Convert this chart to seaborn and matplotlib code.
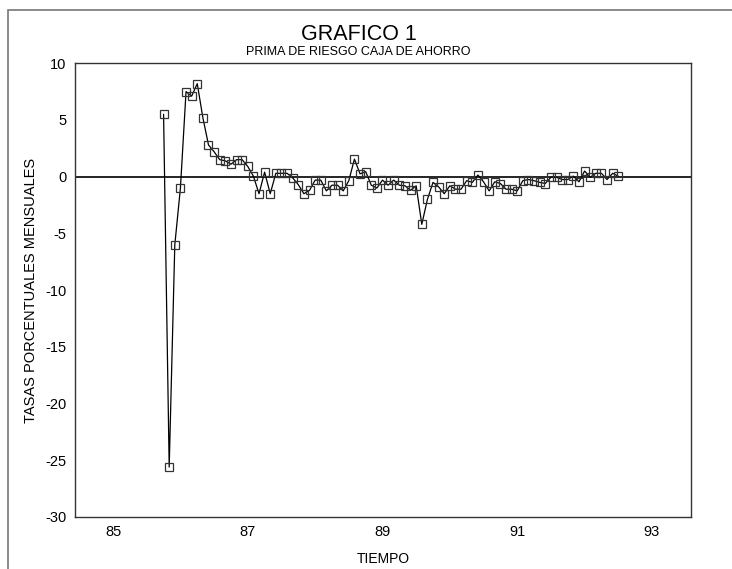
"""
GRAFICO 1 - prima de riesgo caja de ahorro (tasas porcentuales mensuales).
"""

import numpy as np
import pandas as pd
import matplotlib.pyplot as plt
from matplotlib.patches import Rectangle
import seaborn as sns


# --- Data: monthly observations starting late 1985 ---
START_YEAR = 85.75
PRIMA = [
    5.5, -25.6, -6.0, -1.0, 7.5, 7.1, 8.2, 5.2, 2.8, 2.2,
    1.5, 1.4, 1.1, 1.5, 1.5, 0.9, 0.05, -1.5, 0.4, -1.5,
    0.3, 0.3, 0.3, -0.1, -0.7, -1.5, -1.2, -0.3, -0.3, -1.25,
    -0.75, -0.75, -1.25, -0.35, 1.55, 0.25, 0.45, -0.75, -1.0, -0.3,
    -0.75, -0.3, -0.75, -0.8, -1.2, -0.8, -4.2, -2.0, -0.5, -0.9,
    -1.5, -0.8, -1.1, -1.1, -0.35, -0.5, 0.15, -0.45, -1.25, -0.45,
    -0.6, -1.1, -1.1, -1.25, -0.35, -0.25, -0.35, -0.5, -0.6, -0.05,
    -0.05, -0.25, -0.25, 0.05, -0.45, 0.5, -0.05, 0.3, 0.3, -0.25,
    0.3, 0.05,
]
TIEMPO = [START_YEAR + i / 12 for i in range(len(PRIMA))]

X_TICKS = list(range(85, 94))
X_TICK_LABELS = [str(y) if y % 2 == 1 else "" for y in X_TICKS]
Y_TICKS = list(range(-30, 11, 5))

TITLE = "GRAFICO 1"
SUBTITLE = "PRIMA DE RIESGO CAJA DE AHORRO"
XLABEL = "TIEMPO"
YLABEL = "TASAS PORCENTUALES MENSUALES"


def main() -> None:
    sns.set_style("white")
    plt.rcParams["font.family"] = ["Liberation Sans", "DejaVu Sans"]
    plt.rcParams["axes.unicode_minus"] = False
    plt.rcParams["text.color"] = "black"
    plt.rcParams["axes.labelcolor"] = "black"
    plt.rcParams["xtick.color"] = "black"
    plt.rcParams["ytick.color"] = "black"

    df = pd.DataFrame({"tiempo": TIEMPO, "prima": PRIMA})

    fig = plt.figure(figsize=(7.32, 5.69), dpi=100)
    ax = fig.add_axes([0.102, 0.0914, 0.842, 0.7974])

    ax.axhline(0, color="black", lw=1.2, zorder=1)
    sns.lineplot(
        data=df, x="tiempo", y="prima", ax=ax,
        color="black", lw=0.9, marker="s", markersize=5.5,
        markerfacecolor="none", markeredgecolor="#333333", markeredgewidth=0.9,
        zorder=2,
    )

    ax.set_xlim(84.43, 93.58)
    ax.set_ylim(-30, 10)
    ax.set_xticks(X_TICKS)
    ax.set_xticklabels(X_TICK_LABELS)
    ax.set_yticks(Y_TICKS)
    ax.tick_params(direction="in", length=6.5, width=0.9, color="#333333",
                   labelsize=10.5, pad=6)
    ax.set_xlabel(XLABEL, fontsize=10, labelpad=9)
    ax.set_ylabel(YLABEL, fontsize=10.5, labelpad=5)
    for sp in ax.spines.values():
        sp.set_color("#333333")
        sp.set_linewidth(1.0)

    fig.text(0.49, 0.939, TITLE, ha="center", va="center", fontsize=15.5)
    fig.text(0.49, 0.908, SUBTITLE, ha="center", va="center", fontsize=9)

    # outer frame of the original page
    fig.add_artist(Rectangle((8 / 732, -0.1), 2.0, 1.1 - 10 / 569,
                             transform=fig.transFigure, fill=False,
                             edgecolor="#777777", lw=1.2))

    fig.savefig("out.png", dpi=100)
    plt.close(fig)


if __name__ == "__main__":
    main()
